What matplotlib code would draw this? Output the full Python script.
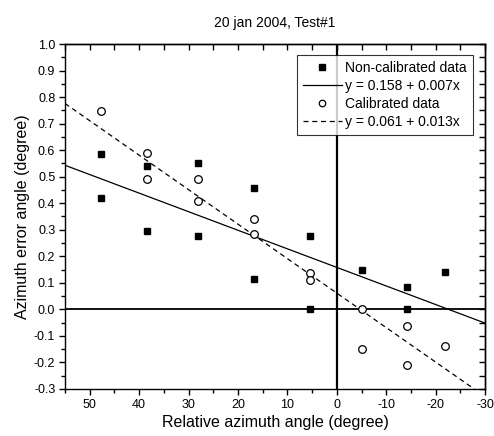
import matplotlib
matplotlib.use("Agg")
import matplotlib.pyplot as plt
import numpy as np
from matplotlib.ticker import MultipleLocator

plt.rcParams['font.family'] = ['Liberation Sans', 'DejaVu Sans']

# relative azimuth angle (degree) and error angle (degree)
x_noncal = [47.7, 47.7, 38.5, 38.5, 28.0, 28.0, 16.7, 16.7, 5.4, 5.4, -5.1, -14.2, -14.2, -21.9]
y_noncal = [0.585, 0.42, 0.54, 0.295, 0.55, 0.275, 0.458, 0.113, 0.275, 0.0, 0.147, 0.084, 0.0, 0.14]

x_cal = [47.7, 38.5, 38.5, 28.0, 28.0, 16.7, 16.7, 5.4, 5.4, -5.1, -5.1, -14.2, -14.2, -21.9]
y_cal = [0.748, 0.588, 0.49, 0.492, 0.41, 0.342, 0.284, 0.137, 0.109, 0.0, -0.148, -0.063, -0.209, -0.139]

# fitted lines from legend
fit_noncal = (0.158, 0.007)
fit_cal = (0.061, 0.013)

fig = plt.figure(figsize=(4.94, 4.36), dpi=100)
ax = fig.add_axes([0.1316, 0.108, 0.8504, 0.791])

xs = np.array([55, -30])
ax.axvline(0, color='black', lw=1.6, zorder=1)
ax.axhline(0, color='black', lw=1.3, zorder=1)

ax.plot(x_noncal, y_noncal, 's', color='black', ms=5, ls='none',
        label='Non-calibrated data', zorder=3)
ax.plot(xs, fit_noncal[0] + fit_noncal[1] * xs, '-', color='black', lw=0.9,
        label='y = 0.158 + 0.007x', zorder=2)
ax.plot(x_cal, y_cal, 'o', mfc='white', mec='black', mew=0.9, ms=5.5, ls='none',
        label='Calibrated data', zorder=3)
ax.plot(xs, fit_cal[0] + fit_cal[1] * xs, '--', color='black', lw=0.9,
        dashes=(4, 3), label='y = 0.061 + 0.013x', zorder=2)

ax.set_xlim(55, -30)
ax.set_ylim(-0.3, 1.0)
ax.xaxis.set_major_locator(MultipleLocator(10))
ax.xaxis.set_minor_locator(MultipleLocator(5))
ax.yaxis.set_major_locator(MultipleLocator(0.1))
ax.yaxis.set_minor_locator(MultipleLocator(0.05))
ax.set_yticks(ax.get_yticks())
ax.set_yticklabels([f'{v:.1f}' for v in ax.get_yticks()])
ax.set_xticks(ax.get_xticks())
ax.set_xticklabels([f'{v:g}' for v in ax.get_xticks()])
ax.set_xlim(55, -30)
ax.set_ylim(-0.3, 1.0)

ax.tick_params(which='both', direction='out', labelsize=9, width=1.0, pad=3)
ax.tick_params(which='major', length=4)
ax.tick_params(which='minor', length=3)

# inward mirrored ticks on top and right
top = ax.secondary_xaxis('top')
top.set_xticks(np.arange(-30, 56, 5))
top.tick_params(direction='in', length=4, width=1.0, labeltop=False)
right = ax.secondary_yaxis('right')
right.set_yticks(np.arange(-0.3, 1.01, 0.05))
right.tick_params(direction='in', length=4, width=1.0, labelright=False)
for s in list(ax.spines.values()) + [top.spines['top'], right.spines['right']]:
    s.set_linewidth(1.0)

ax.set_xlabel('Relative azimuth angle (degree)', fontsize=11.5, labelpad=3)
ax.set_ylabel('Azimuth error angle (degree)', fontsize=11.5, labelpad=3)
ax.set_title('20 jan 2004, Test#1', fontsize=10, pad=12)

leg = ax.legend(loc='upper right', bbox_to_anchor=(0.97, 0.968), fontsize=10,
                frameon=True, fancybox=False, edgecolor='black', handlelength=2.8,
                handletextpad=0.2, borderpad=0.45, labelspacing=0.28, borderaxespad=0,
                markerscale=0.85)
leg.get_frame().set_linewidth(0.8)

fig.savefig('out.png', dpi=100)
